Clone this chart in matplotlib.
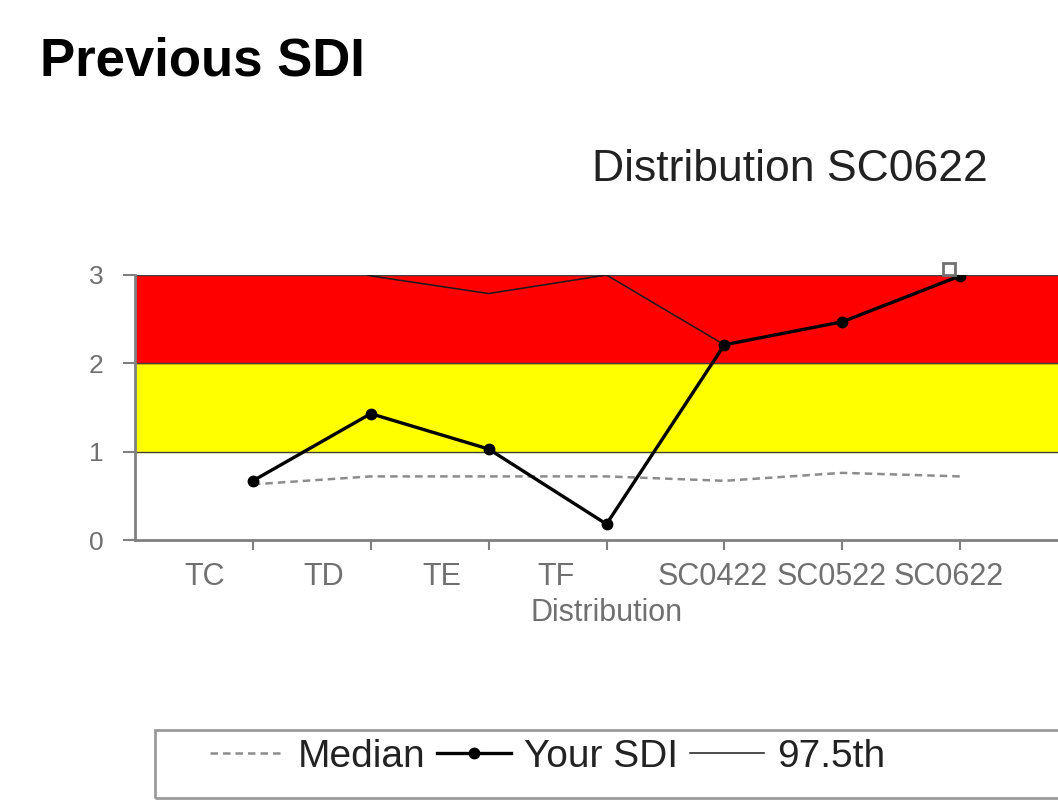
import numpy as np
from matplotlib import pyplot as plt
from matplotlib.patches import Rectangle
from matplotlib.transforms import ScaledTranslation

# data
categories = ['TC', 'TD', 'TE', 'TF', 'SC0422', 'SC0522', 'SC0622']
your_sdi = [0.67, 1.43, 1.03, 0.18, 2.21, 2.47, 2.99]
median = [0.63, 0.72, 0.72, 0.72, 0.67, 0.76, 0.72]
p975 = [3.40, 2.99, 2.79, 3.00, 2.21, 2.47, 2.99]
flag_cat = 'SC0622'  # open square above the last point
flag_val = 3.07
bands = [(1, 2, '#FFFF00'), (2, 3, '#FF0000')]

W, H = 1058, 801
fig = plt.figure(figsize=(W/100, H/100), dpi=100)
ax = fig.add_axes([135/W, (H-540)/H, (1078-135)/W, 265/H])

x = np.arange(len(categories))
gray = '#808080'
fam = 'Liberation Sans'

# colour bands
for lo, hi, col in bands:
	ax.axhspan(lo, hi, color=col, zorder=0)
for yv in [1, 2, 3]:
	ax.axhline(yv, color='#404040', lw=1.0, zorder=1)

ax.plot(x, median, color='#8c8c8c', lw=1.8, ls=(0, (3, 2)), label='Median', zorder=2)
ax.plot(x, your_sdi, color='black', lw=2.4, marker='o', ms=7.5, label='Your SDI', zorder=4)
ax.plot(x, p975, color='#1a1a1a', lw=1.1, label='97.5th', zorder=3)
fi = categories.index(flag_cat)
ax.plot([fi], [flag_val], marker='s', ms=9, mfc='white', mec='#707070', mew=2,
	ls='none', clip_on=False, zorder=5,
	transform=ax.transData + ScaledTranslation(-11/100, 0, fig.dpi_scale_trans))

ax.set_xlim(-1, 7)
ax.set_ylim(0, 3)

# axes look
for s in ['top', 'right']:
	ax.spines[s].set_visible(False)
for s in ['left', 'bottom']:
	ax.spines[s].set_color(gray)
	ax.spines[s].set_linewidth(2)

ax.set_yticks([0, 1, 2, 3])
ax.set_yticklabels(['0', '1', '2', '3'], family=fam)
ax.tick_params(axis='y', direction='out', length=8.6, width=1.5, color=gray,
	pad=14, labelsize=19, labelcolor='#707070')
ax.set_xticks(x)
ax.set_xticklabels(categories, family=fam)
ax.tick_params(axis='x', direction='out', length=7, width=1.5, color=gray,
	pad=9, labelsize=22, labelcolor='#707070')

# labels sit left of their tick marks
offs = [-48, -47, -47, -50, -12, -11, -11]
for lab, dx in zip(ax.get_xticklabels(), offs):
	lab.set_transform(lab.get_transform() + ScaledTranslation(dx/100, 0, fig.dpi_scale_trans))

ax.set_xlabel('Distribution', family=fam, fontsize=22, color='#707070', labelpad=4)

# titles
fig.text(40/W, 1-76/H, 'Previous SDI', fontsize=38, fontweight='bold',
	family=fam, va='baseline', ha='left')
fig.text(790/W, 1-181/H, 'Distribution SC0622', fontsize=32,
	family=fam, color='#222222', va='baseline', ha='center')

# legend box (runs off the page)
fig.add_artist(Rectangle((155/W, 3/H), 1.0, (798-730)/H, transform=fig.transFigure,
	facecolor='none', edgecolor='#9a9a9a', lw=2))
h, l = ax.get_legend_handles_labels()
fig.legend(h, l, loc='center left', bbox_to_anchor=(210/W, 1-757/H), ncol=3,
	frameon=False, prop={'family': fam, 'size': 28},
	handlelength=1.9, handletextpad=0.35, columnspacing=0.3,
	borderpad=0, borderaxespad=0, labelcolor='#222222')

plt.savefig('out.png', dpi=100)
